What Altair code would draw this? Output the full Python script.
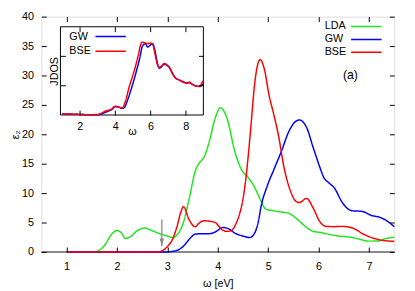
import altair as alt
import pandas as pd

# ---------------- main panel data (omega [eV], eps2) ----------------
lda_w = [1.0, 1.55, 1.65, 1.76, 1.88, 2.0, 2.08, 2.17, 2.27, 2.4, 2.55, 2.7, 2.85, 3.0, 3.11, 3.2, 3.31, 3.43,
         3.56, 3.65, 3.72, 3.82, 3.95, 4.05, 4.18, 4.34, 4.47, 4.6, 4.73, 4.85, 4.95, 5.11, 5.25, 5.4, 5.53,
         5.7, 5.89, 6.05, 6.2, 6.41, 6.6, 6.8, 6.99, 7.18, 7.3, 7.5]
lda_e = [0, 0, 0.3, 1.17, 2.85, 3.65, 3.3, 2.3, 2.6, 3.6, 4.07, 3.6, 3.1, 2.7, 2.45, 3.0, 4.8, 8.95,
         13.95, 15.3, 16.0, 18.4, 22.8, 24.5, 22.8, 17.0, 14.0, 12.7, 11.0, 8.8, 7.3, 7.0, 6.8, 6.6, 5.9,
         4.6, 3.5, 3.3, 3.0, 2.7, 2.55, 2.2, 1.84, 1.85, 2.2, 2.5]

gw_w = [1.0, 2.95, 3.1, 3.2, 3.31, 3.4, 3.47, 3.56, 3.7, 3.82, 3.95, 4.1, 4.2, 4.34, 4.5, 4.63, 4.73, 4.8,
        4.86, 4.98, 5.11, 5.27, 5.4, 5.52, 5.62, 5.7, 5.76, 5.89, 6.02, 6.1, 6.21, 6.31, 6.47, 6.6, 6.66,
        6.86, 7.05, 7.21, 7.35, 7.5]
gw_e = [0, 0, 0.1, 0.3, 0.9, 1.8, 2.5, 3.05, 3.1, 3.1, 3.4, 4.15, 4.0, 3.2, 2.7, 2.45, 3.2, 5.0,
        7.8, 11.2, 13.95, 17.3, 20.3, 22.0, 22.45, 22.0, 21.2, 17.8, 14.5, 12.7, 11.7, 10.9, 8.4, 7.2, 7.0,
        6.9, 6.2, 5.9, 5.3, 4.3]

bse_w = [1.0, 2.8, 2.92, 3.0, 3.11, 3.2, 3.26, 3.32, 3.43, 3.55, 3.63, 3.72, 3.85, 3.95, 4.08, 4.18, 4.26,
         4.37, 4.44, 4.5, 4.55, 4.6, 4.66, 4.73, 4.84, 4.92, 5.02, 5.11, 5.21, 5.31, 5.44, 5.55, 5.62, 5.76,
         5.89, 6.02, 6.15, 6.3, 6.47, 6.66, 6.92, 7.1, 7.25, 7.5]
bse_e = [0, 0, 0.33, 0.9, 2.3, 4.6, 6.6, 7.7, 5.5, 4.3, 4.9, 5.3, 5.2, 5.0, 3.8, 3.5, 3.6,
         5.0, 6.7, 9.0, 12.0, 16.0, 21.7, 28.5, 32.7, 31.2, 26.5, 23.4, 19.5, 14.5, 10.4, 8.6, 8.4, 9.1,
         7.5, 5.2, 4.35, 4.3, 4.35, 4.1, 2.9, 2.3, 2.0, 1.8]

series_names = ["LDA", "GW", "BSE"]
series_colors = ["#1ee61e", "#0000ff", "#ff0000"]

# ---------------- inset data (omega, JDOS) ----------------
jgw_w = [1.0, 1.5, 2.0, 2.5, 3.0, 3.2, 3.4, 3.6, 3.8, 4.0, 4.2, 4.37, 4.5, 4.7, 4.93, 5.2, 5.4, 5.55, 5.7,
         5.85, 6.0, 6.13, 6.25, 6.4, 6.5, 6.6, 6.78, 6.95, 7.1, 7.25, 7.43, 7.6, 7.8, 8.08, 8.2, 8.35,
         8.63, 8.8, 8.94, 9.0]
jgw_j = [0.04, 0.03, 0.02, 0.01, 0.01, 0.03, 0.08, 0.13, 0.18, 0.28, 0.27, 0.23, 0.24, 0.5, 0.92, 1.48,
         1.95, 2.35, 2.42, 2.31, 2.38, 2.42, 2.2, 1.75, 1.59, 1.62, 1.73, 1.68, 1.6, 1.42, 1.25, 1.2, 1.15,
         1.09, 1.1, 1.05, 0.98, 0.97, 1.03, 1.05]
jbse_w = [1.0, 1.5, 2.0, 2.5, 3.0, 3.2, 3.4, 3.6, 3.8, 4.0, 4.2, 4.4, 4.6, 4.78, 5.07, 5.3, 5.45, 5.52,
          5.7, 5.85, 6.0, 6.13, 6.25, 6.4, 6.5, 6.65, 6.78, 6.95, 7.1, 7.25, 7.43, 7.6, 7.8, 8.08, 8.2,
          8.35, 8.63, 8.8, 8.94, 9.0]
jbse_j = [0.04, 0.03, 0.02, 0.01, 0.02, 0.05, 0.12, 0.16, 0.2, 0.3, 0.27, 0.24, 0.5, 0.92, 1.48, 2.0,
          2.4, 2.48, 2.45, 2.43, 2.45, 2.4, 2.1, 1.7, 1.62, 1.68, 1.75, 1.7, 1.58, 1.4, 1.25, 1.2, 1.13,
          1.08, 1.12, 1.05, 0.98, 0.98, 1.12, 1.16]
inset_names = ["GW", "BSE"]
inset_colors = ["#0000ff", "#ff0000"]

# arrow marking the onset (omega, eps2 top, eps2 tip)
arrow_w = [2.89]
arrow_top = [5.5]
arrow_tip = [0.95]

# panel label
label_w = [6.63]
label_e = [30.1]
label_txt = ["(a)"]

# ---------------- layout constants ----------------
W, H = 360, 240
X_DOM = [0.5, 7.5]
Y_DOM = [0, 40]
IX_RANGE = [19.5, 165.3]
IY_RANGE = [100.3, 10.3]
IX_DOM = [0.9, 9.0]
IY_DOM = [0, 3]
TK = 5
FONT = "Liberation Sans"

# legend text keys differ by a trailing space so that Vega-Lite keeps the
# colour (line sample) legend and the text legend apart
main_df = pd.concat([
    pd.DataFrame({"w": lda_w, "e": lda_e, "series": "LDA"}),
    pd.DataFrame({"w": gw_w, "e": gw_e, "series": "GW"}),
    pd.DataFrame({"w": bse_w, "e": bse_e, "series": "BSE"}),
], ignore_index=True)
main_df["lbl"] = main_df["series"] + " "

inset_df = pd.concat([
    pd.DataFrame({"w": jgw_w, "j": jgw_j, "series": "GW"}),
    pd.DataFrame({"w": jbse_w, "j": jbse_j, "series": "BSE"}),
], ignore_index=True)
inset_df["lbl"] = inset_df["series"] + " "

xs = alt.Scale(domain=X_DOM, nice=False, zero=False)
ys = alt.Scale(domain=Y_DOM, nice=False)
ixs = alt.Scale(domain=IX_DOM, range=IX_RANGE, nice=False, zero=False)
iys = alt.Scale(domain=IY_DOM, range=IY_RANGE, nice=False)

common_axis = dict(grid=False, domain=False, tickSize=TK, tickColor="black", tickWidth=1,
                   labelFont=FONT, labelFontSize=11, labelColor="black",
                   titleFont=FONT, titleFontSize=11, titleColor="black", titleFontWeight="normal",
                   zindex=1)

# legend showing only the line samples
sym_legend = dict(orient="none", title=None, symbolType="stroke", symbolSize=961,
                  symbolStrokeWidth=1.5, labelOpacity=0, labelFontSize=11, padding=0,
                  clipHeight=11, symbolOffset=0)
# legend showing only the texts
txt_legend = dict(orient="none", title=None, symbolType="circle", symbolSize=4,
                  symbolStrokeWidth=0, symbolOpacity=0, symbolFillColor="white",
                  labelFont=FONT, labelFontSize=11, labelColor="black", labelOffset=0,
                  padding=0, clipHeight=11)

solid = [[1, 0], [1, 0], [1, 0]]

lines = alt.Chart(main_df).mark_line(strokeWidth=1.5, interpolate="monotone").encode(
    x=alt.X("w:Q", scale=xs, axis=alt.Axis(orient="bottom", values=[1, 2, 3, 4, 5, 6, 7], offset=-TK,
                                           labelPadding=9, title="ω [eV]", titlePadding=6, **common_axis)),
    y=alt.Y("e:Q", scale=ys, axis=alt.Axis(orient="left", values=list(range(0, 41, 5)), offset=-TK,
                                           labelPadding=8, title="ε₂", titlePadding=1, **common_axis)),
    color=alt.Color("series:N", sort=series_names,
                    scale=alt.Scale(domain=series_names, range=series_colors),
                    legend=alt.Legend(legendX=315, legendY=4.5, rowPadding=1.2, **sym_legend)),
    strokeDash=alt.StrokeDash("lbl:N", sort=[n + " " for n in series_names],
                              scale=alt.Scale(domain=[n + " " for n in series_names], range=solid),
                              legend=alt.Legend(legendX=278, legendY=4.5, rowPadding=1.2, **txt_legend)),
)

zero = alt.Chart(pd.DataFrame({"a": [X_DOM[0]], "b": [X_DOM[1]], "z": [0]})).mark_rule(
    color="#8a8a8a", strokeWidth=2).encode(
    x=alt.X("a:Q", scale=xs, axis=alt.Axis(orient="top", values=[1, 2, 3, 4, 5, 6, 7], offset=-TK,
                                           labels=False, title=None, **common_axis)),
    x2="b:Q",
    y=alt.Y("z:Q", scale=ys, axis=alt.Axis(orient="right", values=list(range(0, 41, 5)), offset=-TK,
                                           labels=False, title=None, **common_axis)),
)

arrow_df = pd.DataFrame({"w": arrow_w, "top": arrow_top, "tip": arrow_tip})
shaft = alt.Chart(arrow_df).mark_rule(color="#888888", strokeWidth=1.3).encode(
    x=alt.X("w:Q", scale=xs, axis=None),
    y=alt.Y("top:Q", scale=ys, axis=None),
    y2="tip:Q",
)
head = alt.Chart(arrow_df).mark_point(shape="M-0.55,-2L0,0L0.55,-2Z", filled=True, size=64,
                                      color="#888888", opacity=1).encode(
    x=alt.X("w:Q", scale=xs, axis=None),
    y=alt.Y("tip:Q", scale=ys, axis=None),
)

label = alt.Chart(pd.DataFrame({"w": label_w, "e": label_e, "t": label_txt})).mark_text(
    font=FONT, fontSize=12.5, color="black").encode(
    x=alt.X("w:Q", scale=xs, axis=None),
    y=alt.Y("e:Q", scale=ys, axis=None),
    text="t:N",
)

frame = alt.Chart(pd.DataFrame({"a": [IX_DOM[0]], "b": [IX_DOM[1]], "c": [IY_DOM[0]], "d": [IY_DOM[1]]})).mark_rect(
    fill="white", stroke="black", strokeWidth=1).encode(
    x=alt.X("a:Q", scale=ixs, axis=alt.Axis(orient="top", values=[2, 4, 6, 8], offset=-(IY_RANGE[1] + TK),
                                            labels=False, title=None, **common_axis)),
    x2="b:Q",
    y=alt.Y("c:Q", scale=iys, axis=alt.Axis(orient="right", values=[1, 2], offset=(IX_RANGE[1] - TK) - W,
                                            labels=False, title=None, **common_axis)),
    y2="d:Q",
)

inset = alt.Chart(inset_df).mark_line(strokeWidth=1.5, interpolate="monotone").encode(
    x=alt.X("w:Q", scale=ixs, axis=alt.Axis(orient="bottom", values=[2, 4, 6, 8],
                                            offset=-(H - IY_RANGE[0]) - TK, labelPadding=6,
                                            title="ω", titlePadding=-6, **common_axis)),
    y=alt.Y("j:Q", scale=iys, axis=alt.Axis(orient="left", values=[1, 2], offset=-(IX_RANGE[0] + TK),
                                            labels=False, title="JDOS", titlePadding=1, **common_axis)),
    color=alt.Color("series:N", sort=inset_names,
                    scale=alt.Scale(domain=inset_names, range=inset_colors),
                    legend=alt.Legend(legendX=54.2, legendY=14.8, rowPadding=3, **sym_legend)),
    strokeDash=alt.StrokeDash("lbl:N", sort=[n + " " for n in inset_names],
                              scale=alt.Scale(domain=[n + " " for n in inset_names], range=solid[:2]),
                              legend=alt.Legend(legendX=17.5, legendY=14.8, rowPadding=3, **txt_legend)),
)

chart = alt.layer(zero, lines, shaft, head, label, frame, inset).resolve_scale(
    x="independent", y="independent", color="independent", strokeDash="independent"
).properties(
    width=W, height=H,
    autosize=alt.AutoSizeParams(type="none"),
    padding={"left": 34, "top": 6, "right": 13, "bottom": 37},
).configure_view(stroke="black", strokeWidth=1).configure(background="white")

chart.save("out.html", embed_options={"renderer": "svg", "actions": False})
